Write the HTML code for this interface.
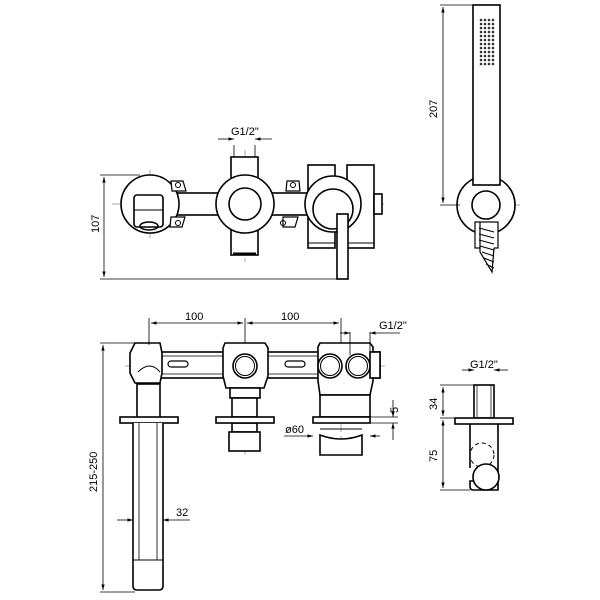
<!DOCTYPE html>
<html><head><meta charset="utf-8"><style>
html,body{margin:0;padding:0;background:#fff;}
svg{display:block}
text{font-family:"Liberation Sans",sans-serif;font-size:11px;fill:#000}
</style></head><body>
<svg width="600" height="600" viewBox="0 0 600 600" xmlns="http://www.w3.org/2000/svg">
<defs>
<marker id="a" viewBox="0 0 10 10" refX="10" refY="5" markerWidth="7" markerHeight="7" orient="auto-start-reverse"><path d="M0,2 L10,5 L0,8z" fill="#000"/></marker>
</defs>
<g fill="none" stroke="#000" stroke-width="1.6">
<g stroke="#888" stroke-width="0.7" stroke-dasharray="8,4">
<line x1="112" y1="204" x2="385" y2="204"/>
<line x1="150" y1="170" x2="150" y2="238"/>
<line x1="245" y1="150" x2="245" y2="262"/>
<line x1="333" y1="170" x2="333" y2="238"/>
</g>
<rect x="170" y="193" width="150" height="22" fill="#fff"/>
<rect x="308" y="165" width="27" height="83" fill="#fff"/>
<rect x="347" y="165" width="27" height="83" fill="#fff"/>
<rect x="374" y="194" width="8" height="20" fill="#fff"/>
<line x1="308" y1="243" x2="335" y2="243" stroke-width="1"/>
<line x1="347" y1="243" x2="374" y2="243" stroke-width="1"/>
<circle cx="150" cy="204" r="29" fill="#fff"/>
<rect x="134" y="195" width="29" height="32" rx="3"/>
<line x1="134" y1="210" x2="163" y2="210" stroke-width="1"/>
<ellipse cx="149" cy="226" rx="9" ry="4"/>
<path d="M171,181 h12 l3,10 h-14z M171,217 h14 l-3,10 h-12z M287,181 h12 l1,10 h-14z M283,217 h15 l-3,10 h-12z" fill="#fff" stroke-width="1.2"/>
<circle cx="178" cy="185" r="2.5" stroke-width="1"/><circle cx="178" cy="223" r="2.5" stroke-width="1"/>
<circle cx="293" cy="185" r="2.5" stroke-width="1"/><circle cx="283" cy="223" r="2.5" stroke-width="1"/>
<rect x="231" y="157" width="27" height="23" fill="#fff"/>
<rect x="231" y="228" width="27" height="27" fill="#fff"/>
<line x1="233" y1="254" x2="256" y2="254" stroke-width="3"/>
<circle cx="245" cy="204" r="29" fill="#fff"/>
<circle cx="245" cy="204" r="16"/>
<circle cx="333" cy="204" r="28" fill="#fff"/>
<circle cx="333" cy="209" r="20" fill="#fff"/>
<rect x="337" y="214" width="11" height="65" fill="#fff"/>
<g stroke-width="0.8">
<line x1="100" y1="175" x2="140" y2="175"/>
<line x1="100" y1="279" x2="340" y2="279"/>
<line x1="104" y1="177" x2="104" y2="277" marker-start="url(#a)" marker-end="url(#a)"/>
<line x1="234" y1="145" x2="234" y2="157"/><line x1="255" y1="145" x2="255" y2="157"/>
<line x1="218" y1="139" x2="234" y2="139" marker-end="url(#a)"/>
<line x1="272" y1="139" x2="255" y2="139" marker-end="url(#a)"/>
</g>
<g stroke="#888" stroke-width="0.7" stroke-dasharray="8,4">
<line x1="487" y1="8" x2="487" y2="240"/>
<line x1="455" y1="205" x2="520" y2="205"/>
</g>
<circle cx="486" cy="205" r="29" fill="#fff"/>
<rect x="473" y="5" width="27" height="180" fill="#fff"/>
<rect x="475" y="222" width="23" height="26" fill="#fff" stroke-width="1.2"/>
<path d="M480,222 v30 l12,20 l2,-24" fill="#fff" stroke-width="1.2"/>
<path d="M479,228 l15,4 M479,234 l15,4 M479,240 l15,4 M480,246 l14,4 M482,252 l12,4 M484,258 l10,4 M486,264 l8,4" stroke-width="1"/>
<circle cx="486" cy="205" r="14" fill="#fff"/>
<g fill="#333" stroke="none">
<g id="dr"><circle cx="481" cy="20" r="1.3"/><circle cx="485" cy="20" r="1.3"/><circle cx="489" cy="20" r="1.3"/><circle cx="493" cy="20" r="1.3"/></g>
<use href="#dr" y="4"/><use href="#dr" y="8"/><use href="#dr" y="12"/><use href="#dr" y="16"/><use href="#dr" y="20"/><use href="#dr" y="24"/><use href="#dr" y="28"/><use href="#dr" y="32"/><use href="#dr" y="36"/><use href="#dr" y="40"/><use href="#dr" y="44"/>
</g>
<g stroke-width="0.8">
<line x1="440" y1="5" x2="473" y2="5"/>
<line x1="440" y1="205" x2="460" y2="205"/>
<line x1="443" y1="7" x2="443" y2="203" marker-start="url(#a)" marker-end="url(#a)"/>
</g>
<g stroke="#888" stroke-width="0.7" stroke-dasharray="8,4">
<line x1="125" y1="366" x2="385" y2="366"/>
<line x1="149" y1="340" x2="149" y2="590"/>
<line x1="245" y1="340" x2="245" y2="455"/>
<line x1="341" y1="340" x2="341" y2="460"/>
</g>
<rect x="160" y="352" width="220" height="26" fill="#fff"/>
<line x1="160" y1="356" x2="380" y2="356" stroke-width="0.8"/>
<line x1="160" y1="374" x2="380" y2="374" stroke-width="0.8"/>
<rect x="168" y="361" width="20" height="6" rx="3" stroke-width="1.2"/>
<rect x="285" y="361" width="20" height="6" rx="3" stroke-width="1.2"/>
<path d="M135,343 h25 l2,10 v20 l-2,10 h-25 l-5,-10 v-20z" fill="#fff"/>
<path d="M138,372 q12,-12 22,0" stroke-width="1"/>
<rect x="137" y="384" width="23" height="34" fill="#fff"/>
<path d="M225,343 h40 l3,5 v28 l-4,12 h-38 l-3,-12 v-28z" fill="#fff"/>
<circle cx="245" cy="366" r="12"/><circle cx="245" cy="366" r="9.5" stroke-width="1"/>
<rect x="230" y="388" width="30" height="10" fill="#fff"/>
<rect x="232" y="398" width="25" height="19" fill="#fff"/>
<rect x="232" y="423" width="25" height="9" fill="#fff"/>
<rect x="229" y="432" width="31" height="19" fill="#fff"/>
<path d="M320,343 h50 l3,4 v34 l-3,14 h-50 l-2,-14 v-34z" fill="#fff"/>
<rect x="370" y="352" width="10" height="26" fill="#fff"/>
<circle cx="330" cy="366" r="12" fill="#fff"/><circle cx="330" cy="366" r="9.5" stroke-width="1"/>
<circle cx="358" cy="366" r="12" fill="#fff"/><circle cx="358" cy="366" r="9.5" stroke-width="1"/>
<rect x="320" y="395" width="50" height="22" fill="#fff"/>
<path d="M320,435 q21,8 42,0 v20 h-42z" fill="#fff"/>
<line x1="320" y1="429" x2="362" y2="429" stroke-width="1"/>
<rect x="120" y="417" width="58" height="6" fill="#fff"/>
<rect x="216" y="417" width="58" height="6" fill="#fff"/>
<rect x="313" y="417" width="57" height="6" fill="#fff"/>
<path d="M133,423 V586 q0,4 4,4 h22 q4,0 4,-4 V423" fill="#fff"/>
<line x1="139" y1="423" x2="139" y2="560" stroke-width="0.8"/>
<line x1="157" y1="423" x2="157" y2="560" stroke-width="0.8"/>
<line x1="133" y1="560" x2="163" y2="560" stroke-width="1"/>
<g stroke-width="0.8">
<line x1="149" y1="318" x2="149" y2="345"/>
<line x1="245" y1="318" x2="245" y2="343"/>
<line x1="341" y1="318" x2="341" y2="343"/>
<line x1="151" y1="323" x2="243" y2="323" marker-start="url(#a)" marker-end="url(#a)"/>
<line x1="247" y1="323" x2="339" y2="323" marker-start="url(#a)" marker-end="url(#a)"/>
<line x1="100" y1="343" x2="135" y2="343"/>
<line x1="100" y1="592" x2="135" y2="592"/>
<line x1="103" y1="345" x2="103" y2="590" marker-start="url(#a)" marker-end="url(#a)"/>
<line x1="117" y1="520" x2="133" y2="520" marker-end="url(#a)"/>
<line x1="190" y1="520" x2="163" y2="520" marker-end="url(#a)"/>
<line x1="350" y1="332" x2="350" y2="355"/><line x1="370" y1="332" x2="370" y2="355"/>
<line x1="340" y1="333" x2="350" y2="333" marker-end="url(#a)"/>
<line x1="400" y1="333" x2="370" y2="333" marker-end="url(#a)"/>
<line x1="284" y1="436" x2="313" y2="436" marker-end="url(#a)"/>
<line x1="370" y1="436" x2="380" y2="436" marker-start="url(#a)"/>
<line x1="370" y1="417" x2="398" y2="417"/>
<line x1="370" y1="423" x2="398" y2="423"/>
<line x1="393" y1="400" x2="393" y2="417" marker-end="url(#a)"/>
<line x1="393" y1="440" x2="393" y2="423" marker-end="url(#a)"/>
</g>
<rect x="474" y="385" width="20" height="33" fill="#fff"/>
<line x1="477" y1="385" x2="477" y2="418" stroke-width="0.7"/>
<line x1="491" y1="385" x2="491" y2="418" stroke-width="0.7"/>
<rect x="455" y="418" width="58" height="6" fill="#fff"/>
<path d="M470,424 V468 M498,424 V490 H473 q-3,0 -3,-4 v-5 h4" fill="#fff"/>
<circle cx="482" cy="455" r="12" stroke-dasharray="4,3" stroke-width="1"/>
<circle cx="486" cy="477" r="13" fill="#fff"/>
<g stroke-width="0.8">
<line x1="440" y1="385" x2="474" y2="385"/>
<line x1="440" y1="418" x2="455" y2="418"/>
<line x1="440" y1="490" x2="470" y2="490"/>
<line x1="443" y1="387" x2="443" y2="416" marker-start="url(#a)" marker-end="url(#a)"/>
<line x1="443" y1="420" x2="443" y2="488" marker-start="url(#a)" marker-end="url(#a)"/>
<line x1="462" y1="370" x2="474" y2="370" marker-end="url(#a)"/>
<line x1="508" y1="370" x2="494" y2="370" marker-end="url(#a)"/>
</g>
</g>
<text x="231" y="135">G1/2"</text>
<text x="185" y="320">100</text>
<text x="281" y="320">100</text>
<text x="379" y="329">G1/2"</text>
<text x="470" y="368">G1/2"</text>
<text x="176" y="516">32</text>
<text x="285" y="433">ø60</text>
<text transform="translate(99,233) rotate(-90)">107</text>
<text transform="translate(437,118) rotate(-90)">207</text>
<text transform="translate(97,492) rotate(-90)">215-250</text>
<text transform="translate(437,410) rotate(-90)">34</text>
<text transform="translate(437,462) rotate(-90)">75</text>
<text transform="translate(398,413) rotate(-90)">5</text>
</svg>
</body></html>
